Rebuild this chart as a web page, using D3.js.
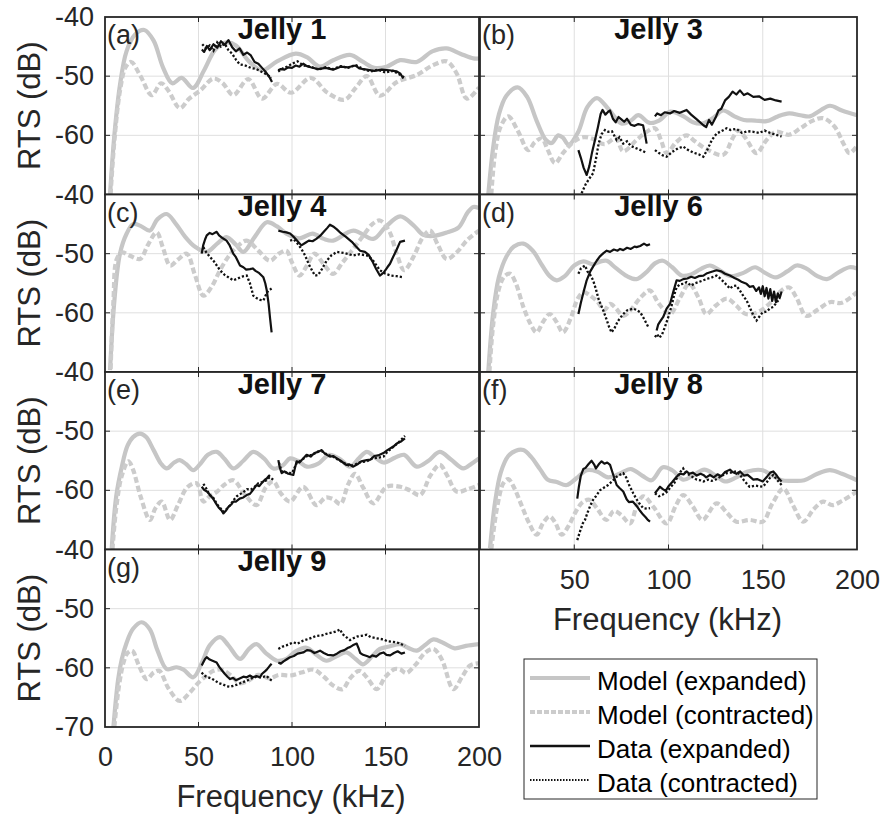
<!DOCTYPE html>
<html>
<head>
<meta charset="utf-8">
<script src="https://cdn.jsdelivr.net/npm/d3@7"></script>
<style>
    body { margin: 0; background: #fff; }
    svg text { font-family: "Liberation Sans", Arial, Helvetica, sans-serif; }
</style>
</head>
<body>
<div id="chart"></div>
<script>
// ---- tick labels / names ----
var freqTicks = [0, 50, 100, 150, 200];
var rtsTicks = [-40, -50, -60, -70];
var gridFreq = [50, 100, 150];
var gridRts = [-50, -60];
var titles = ["Jelly 1", "Jelly 3", "Jelly 4", "Jelly 6", "Jelly 7", "Jelly 8", "Jelly 9"];
var tags = ["(a)", "(b)", "(c)", "(d)", "(e)", "(f)", "(g)"];
var legendLabels = ["Model (expanded)", "Model (contracted)", "Data (expanded)", "Data (contracted)"];

// ---- Jelly 1 ----
var j1ModelExp = [[2.7,-70],[5,-60],[8,-51.5],[11.5,-45.8],[16,-43],[21,-42.2],[26,-44],[31,-48.5],[36,-51.2],[41,-50.3],[47,-52],[53,-49],[59,-45.5],[65,-44.3],[70,-44.8],[77,-47.5],[84,-49],[92,-47.5],[102,-46.2],[108,-46.8],[115,-48.4],[122,-47.3],[131,-46.4],[138,-47.6],[144,-48.6],[150.6,-48.4],[157.8,-47.3],[166.7,-47.6],[175,-45.8],[182.7,-45.3],[190,-46.2],[197,-47],[200,-47]];
var j1ModelCon = [[3,-70],[5,-61],[8,-52.5],[11,-48.5],[14,-47.6],[19,-50],[25,-53.2],[30,-51.2],[34,-52.5],[40,-55.4],[45,-53.8],[51,-52.4],[58,-50.4],[63,-51.2],[68.6,-53.2],[76.6,-50.5],[84,-53.8],[92,-51.3],[99.5,-52.8],[110,-50.3],[119,-52.8],[128,-54],[134,-52],[140,-50],[147,-53.3],[156,-51],[166.7,-49.8],[175,-48.2],[182.7,-47.5],[188,-49.5],[193.5,-53.8],[200,-51.9]];
var j1DataExp = [
    [[51.8,-45.5],[53,-45.9],[54.5,-44.9],[56,-45.6],[58,-44.6],[60,-45.2],[62,-44.1],[64,-44.7],[66,-43.9],[68,-45.1],[70,-45.8],[72,-45.3],[74,-46.4],[76,-46],[78,-46.5],[80,-47.6],[82,-47.9],[84,-48.6],[86,-49.3],[88,-50.2],[89.3,-51]],
    [[92.6,-49],[94,-48.8],[96,-48.9],[98,-48.5],[100,-48.6],[102,-48.2],[104,-48.4],[106,-47.9],[108,-48.3],[110,-48.5],[114,-48.8],[118,-48.6],[122,-48.9],[126,-48.4],[130,-48.5],[134,-48.2],[136,-48.7],[140,-48.9],[144,-49.1],[148,-48.9],[152,-49],[156,-49.2],[158,-49.6],[159.5,-50.4]]
];
var j1DataCon = [
    [[52,-44.6],[54,-45.3],[56,-44.8],[58,-45.7],[60,-44.3],[62,-45],[64,-44.5],[66,-45.6],[68,-46.2],[70,-47.2],[72,-48],[75,-48.2],[78,-48.6],[81,-48.8],[84,-49.3],[87,-49.8],[89,-50.3]],
    [[92.6,-49.2],[95,-48.7],[98,-48.3],[100,-47.9],[103,-47.5],[106,-48.2],[110,-48.4],[114,-48.9],[118,-48.5],[122,-48.8],[126,-48.3],[130,-48.6],[134,-48.1],[138,-48.8],[142,-49.2],[146,-48.9],[150,-49.4],[154,-49.1],[158,-49.8],[160,-50.2]]
];

// ---- Jelly 3 ----
var j3ModelExp = [[4.4,-70],[7,-62],[10,-56.5],[14,-53.3],[20,-51.9],[25,-53.5],[30,-57.5],[35,-60.8],[38,-61.3],[41.5,-60],[44,-60.4],[47,-61.6],[52,-59.5],[57,-55.2],[62,-53.7],[68,-55.5],[75,-58],[80,-57.5],[84,-56.6],[90,-57.9],[95,-57.5],[101,-56],[108,-56.8],[113,-57.8],[118,-58],[124,-57],[129,-55.8],[135,-56.8],[140,-57.4],[146,-57.5],[152,-57.6],[158,-56.8],[164,-56.3],[170,-56.6],[175,-56.8],[180,-55.9],[185.6,-55],[192,-55.8],[200,-56.6]];
var j3ModelCon = [[6,-70],[8,-63],[11,-58.5],[15,-56.8],[20,-59.2],[25.6,-62.5],[29,-61.2],[32.7,-60.5],[36,-62.5],[39.8,-64.7],[44,-63],[50,-61],[55,-60.3],[60,-60.6],[66,-61.5],[72,-60.5],[76,-62.7],[83,-60.8],[88,-59.5],[92.8,-58.8],[96,-60.8],[99,-63],[104,-61.2],[109.6,-60],[114,-61],[120,-62.3],[129,-63.3],[134,-60.5],[137,-59.2],[141,-60.5],[146.7,-63],[152,-60.8],[157,-59.4],[164,-59.9],[170,-58.8],[176,-57.6],[182,-57.1],[188,-58.5],[193,-61.5],[196,-63],[200,-61.8]];
var j3DataExp = [
    [[52.2,-62.5],[53.5,-63.8],[55,-65.5],[56.6,-66.7],[58,-65.2],[59.5,-62.8],[61,-60.8],[62.5,-58.7],[64,-56.4],[65,-55.7],[66.5,-56.5],[68,-56],[69,-55.8],[70.5,-57.2],[72,-57.8],[73.5,-56.9],[75,-57.3],[76.5,-57.7],[78,-57.2],[80,-58.2],[82,-58.4],[84,-58.1],[86.5,-58.3],[87.5,-59.8],[88.4,-61.4]],
    [[92.8,-56.8],[94,-56.3],[96,-56.6],[98,-56.1],[100.8,-56.3],[103,-55.9],[106,-56.2],[109.6,-55.7],[112,-56.5],[115,-57.3],[118.5,-58.3],[120,-58.6],[121.5,-57.4],[123,-58.2],[125,-57],[126.5,-55.8],[128,-55.5],[130,-54.1],[132,-53.5],[134,-52.6],[136,-53.1],[137.9,-52.4],[140,-53.2],[142,-52.9],[145,-53.5],[148,-53.4],[151,-54],[154,-53.8],[157,-54.1],[160,-54.3]]
];
var j3DataCon = [
    [[53.9,-69.8],[56,-68.3],[58,-67.3],[60,-66.4],[61.5,-64],[63,-61.3],[64.5,-59.8],[66.3,-59.1],[68,-59.4],[70,-59.3],[72.5,-60.8],[74,-60.3],[76,-61.4],[78,-61],[80,-61.8],[83,-62.2],[86,-62.6],[88.4,-63]],
    [[92.8,-62.5],[95,-63],[97,-63.4],[99,-63.6],[102,-62.8],[105,-62.2],[107.8,-61.9],[110,-62.4],[113,-62.9],[116,-63.2],[118.5,-63.6],[120.5,-62.5],[123,-60.8],[125.5,-59.7],[128,-59.3],[130.8,-58.8],[133,-59.1],[136,-58.9],[139,-59.6],[142,-59.3],[145,-59.4],[148,-59.6],[151,-59.2],[154,-59.6],[157,-59.9],[160,-60.2]]
];

// ---- Jelly 4 ----
var j4ModelExp = [[2.7,-69.7],[5,-58],[8,-50],[11.6,-46.6],[15,-45],[19,-45.3],[24,-46.1],[28,-44.2],[33,-43.3],[38,-45],[43,-47.2],[48,-48.8],[54.4,-49.7],[60,-48.3],[65,-47.2],[70,-48.5],[74,-49.7],[80,-47.2],[86.5,-44.7],[92,-45.4],[97,-46.6],[104,-47.4],[111,-46.6],[117,-47.5],[122,-47.8],[132.8,-46.1],[143.5,-47.5],[150,-45.5],[157.8,-43.7],[165,-45.2],[170,-46.8],[175.6,-47],[183,-46.4],[189,-45.6],[194,-43],[197,-42.1],[200,-42.3]];
var j4ModelCon = [[3,-69.5],[4.5,-58],[6.2,-51],[9,-49.8],[13,-50.3],[18.7,-50.9],[23,-48.5],[27.6,-46.4],[31,-49],[34.8,-52],[39,-51],[43.7,-50],[48,-53.5],[52.6,-57.1],[57,-55.6],[61.5,-52.8],[66,-50.5],[71,-48.7],[75.8,-47.8],[82,-49.5],[88.2,-51.2],[93,-50],[97,-49.5],[100,-51.5],[104,-53.7],[108,-52],[112,-50],[117,-51.8],[122,-53.4],[127,-51.5],[132,-49.5],[138,-47],[143,-45],[147,-44.4],[152,-46.2],[156,-50],[160,-52.8],[165,-50.5],[170,-47.2],[173.8,-46.1],[178,-48.5],[182.7,-50.9],[188,-49.8],[194,-47.6],[200,-46.1]];
var j4DataExp = [
    [[51.7,-50],[52.5,-48.6],[53.5,-47.6],[54.4,-46.9],[56,-46.5],[57.5,-46.7],[59.7,-46.3],[61,-46.9],[63,-47.4],[65,-47.8],[66.5,-48.5],[68.6,-50],[70,-50.6],[72.2,-52],[74,-52.3],[75.5,-52.7],[77.5,-52.6],[79,-52.5],[80.5,-52.9],[82.5,-53.3],[84.7,-54],[85.7,-55],[86.5,-56.2],[87.5,-58.5],[88.3,-61],[89.1,-63.3]],
    [[92.7,-46.1],[95,-46.3],[97,-46.4],[99,-46.6],[101,-47.2],[103,-47.9],[105,-48.6],[107,-48.2],[109,-47.8],[111,-47.9],[113,-47.5],[115,-47],[117,-46.3],[119,-45.6],[120.3,-45.1],[122,-45.4],[124,-45.9],[126,-46.5],[129,-47.2],[132,-48],[134,-48.7],[136.4,-49.5],[139,-49.7],[141,-50.2],[143,-51.3],[145,-52.6],[147,-53.7],[149,-53.2],[151,-52.3],[152.4,-51.7],[154,-50.6],[156,-49.3],[157.8,-48],[160.4,-47.8]]
];
var j4DataCon = [
    [[52.6,-48.9],[54,-49.7],[56,-50.5],[58,-51.2],[60,-52.1],[61.5,-52.8],[64,-53.6],[66,-54],[68.6,-54.5],[71,-54.2],[73,-53.9],[75.8,-53.7],[77.5,-55],[79.3,-57.1],[81,-57.5],[83,-57.8],[84.7,-57.9],[86,-57],[87.3,-56.2],[88.5,-56],[90,-55.7]],
    [[99,-47.8],[101,-47.6],[103,-48.3],[105,-49.2],[107,-50.3],[109,-51.8],[111,-53],[112.3,-53.7],[114,-53.6],[116,-52.6],[118.5,-51.2],[121,-50.3],[124,-49.7],[128,-49.9],[132.8,-50.3],[136,-50.1],[140,-50.3],[143,-51],[147,-52.8],[150,-53.4],[153,-53.7],[156,-53.8],[159.5,-54]]
];

// ---- Jelly 6 ----
var j6ModelExp = [[4.4,-70],[7,-60],[10,-54],[14,-50.5],[18,-48.8],[23,-48.3],[28,-49.5],[33,-52],[37,-53.8],[40.7,-54.5],[45,-53.8],[50,-52],[55,-51.3],[60,-51.8],[64,-51.3],[67.2,-51.2],[72,-52.4],[78,-53.8],[83,-54.3],[88,-53.2],[93,-51.6],[97,-51.2],[102,-52.3],[107,-53.7],[112,-53.5],[117,-52.6],[122,-52],[127,-52.8],[133,-53.8],[140,-53.2],[146,-52.3],[151,-53.2],[157,-54],[163,-53],[168,-52],[173,-52.5],[179,-53.8],[184,-54.3],[190,-53.2],[196,-52.3],[200,-52.5]];
var j6ModelCon = [[5,-70],[7,-62],[10,-56],[13,-53.8],[16,-53.4],[19,-55],[23,-59],[27,-62],[30,-63.3],[33.5,-61.5],[37,-60.2],[40.5,-61.5],[44,-63.3],[48,-61],[52,-57.5],[55,-56.5],[58,-57],[62,-58],[66,-59.5],[69,-58.5],[72,-59.2],[76,-60.5],[80,-59.5],[85,-57.5],[90,-56.2],[95,-58.5],[100.8,-60.2],[106,-57.5],[111,-55.1],[116,-57.5],[120,-60.2],[125,-58.8],[131,-57.6],[136,-58.8],[141,-60.2],[148,-59.8],[155,-58],[160,-56.2],[164,-55.7],[168,-57.5],[173,-60.5],[179,-59.5],[185.6,-58.2],[192,-58.3],[200,-56.5]];
var j6DataExp = [
    [[52.2,-60.2],[53.5,-58.3],[55,-56.4],[56.6,-54.5],[58.5,-53],[60,-52.2],[61.9,-51.2],[63.5,-50.5],[65.5,-49.9],[67.2,-49.5],[69,-49.7],[71,-49.3],[73,-49.5],[74.3,-49.2],[76,-49.4],[78,-49],[80,-49.2],[82,-48.8],[83,-48.9],[85,-48.7],[87,-48.3],[88.5,-48.6],[90.2,-48.4]],
    [[93.7,-63],[94.5,-62],[95.5,-61.5],[97.2,-60.7],[99,-59.3],[100.8,-58.5],[102.5,-56.5],[104.3,-54.5],[106,-54.6],[107.8,-54.3],[110,-54.2],[112,-53.9],[114,-54.1],[116,-53.8],[118.5,-53.7],[120.5,-53.3],[122.5,-53.1],[125.5,-52.8],[128,-53],[130,-53.4],[132.6,-53.7],[135,-54.1],[137,-54.4],[139,-54.8],[141.4,-55.1],[143,-55.6],[145,-55.5],[146.5,-56.3],[148,-55.7],[149,-56.8],[150,-55.5],[151,-57.2],[152,-55.8],[153,-57.6],[154,-56],[155,-58],[156,-56.4],[157,-58.2],[158,-56.7],[159,-57.5],[160,-56.4]]
];
var j6DataCon = [
    [[52.2,-53.4],[53.5,-52.5],[55.7,-52],[57,-53],[58.5,-53.6],[60,-54.5],[61.5,-56],[63,-57.8],[65.4,-59.6],[67,-61],[68.5,-62.4],[69.8,-63.3],[71.5,-62.5],[73,-61.5],[74.5,-60.8],[76,-60.2],[78,-59.6],[80,-59.4],[81.3,-59.3],[83,-59.5],[85,-59.9],[87,-61],[89.3,-62.4]],
    [[92.8,-64.1],[94,-63.6],[95,-64.2],[96.4,-63.8],[98,-62.5],[100,-60.6],[101.5,-59],[103,-57],[104.3,-55.7],[106,-55.2],[108,-55.1],[109.6,-54.8],[112,-55.4],[114,-55],[116,-54.8],[118.5,-54.5],[121,-54.2],[123,-54],[125.5,-53.7],[127.5,-54.2],[130,-55],[132.6,-55.9],[134,-55.5],[136,-55.4],[138,-56.3],[140,-57.3],[141.4,-57.9],[143,-59],[145,-60.4],[146.7,-61.3],[148.5,-60.5],[150,-59.9],[152,-59.8],[154,-59.2],[155.6,-59],[157,-58.4],[159,-57.6]]
];

// ---- Jelly 7 ----
var j7ModelExp = [[3.6,-69.8],[6,-61],[9,-56],[12,-52.5],[15,-51],[18.7,-50.4],[22,-51],[26,-53.2],[30,-55.5],[33,-56.3],[37,-55.3],[40,-54.9],[43.5,-55.6],[47.2,-56.6],[51,-55.5],[55,-54],[59.7,-53.5],[64,-54.7],[68.6,-56.3],[74,-55],[79.3,-53.5],[85,-54.6],[90,-56.3],[95,-55.8],[99,-54.6],[103,-55],[108,-56],[114,-55.5],[120,-54],[126,-54.8],[131,-56],[136,-54.5],[140,-53.5],[144,-54.3],[149,-55.3],[155,-54.5],[160,-54],[166.7,-56],[173,-55],[179,-53.5],[185,-54.8],[191.6,-56.3],[196,-55.5],[200,-54.6]];
var j7ModelCon = [[4,-70],[6,-63],[9,-57.5],[12.5,-55.1],[15,-56.5],[19,-61],[24,-65],[27,-63],[30.3,-61.9],[34.8,-65],[39,-62.5],[44,-59.5],[49,-58.8],[52.6,-61.9],[56,-61],[60,-60.2],[64,-59],[68.6,-58.3],[75,-60.8],[81,-62.5],[86,-59.5],[90,-58.5],[94,-60.5],[99,-61.9],[106,-59.4],[113,-62.5],[118,-61.2],[122,-61.5],[126,-62.3],[130,-59],[133.7,-57.2],[138,-59.5],[143.5,-62.2],[150.6,-59.4],[158,-59.4],[163,-60],[168.5,-60.8],[174,-57.5],[179,-55.7],[183,-57.5],[188,-60.2],[194,-59.8],[200,-59.1]];
var j7DataExp = [
    [[51.7,-59.4],[53,-59.9],[54.5,-60.2],[56.2,-60.8],[58,-61.5],[59.5,-62.3],[61,-63],[62.3,-63.4],[63.3,-63.9],[64.5,-63.5],[66,-62.8],[67.5,-62.4],[68.6,-61.9],[70,-61.9],[72,-61.4],[74,-61.2],[75.8,-60.8],[77.5,-60.6],[79,-60],[81,-59.1],[82.5,-59.3],[84,-58.7],[85.5,-58.2],[86.5,-58],[87.5,-57.6],[88.2,-57.4]],
    [[92.7,-54.9],[93.5,-56.2],[94.5,-57.1],[96,-56.8],[98,-57.2],[100.7,-57.4],[101.5,-56.3],[102.5,-55.1],[104,-55.3],[106,-54.6],[107.8,-54],[110,-54.3],[112,-53.7],[114,-53.5],[115.9,-53.2],[117.5,-53.8],[120.3,-54.3],[122,-54.2],[124,-54.6],[126,-55],[129,-55.7],[130.5,-55.6],[132.8,-56],[135,-55.6],[137,-55.1],[140,-54.9],[142,-54.8],[144,-54.2],[146,-54.1],[148.9,-53.7],[151,-53.2],[154.2,-52.6],[156,-52.1],[158,-51.8],[160.4,-51.2]]
];
var j7DataCon = [
    [[52.6,-58.9],[54,-59.6],[56,-60.8],[58,-61.3],[60,-62.4],[62,-63.1],[63.3,-63.6],[65,-63.2],[67,-62.5],[68.6,-61.7],[70.5,-61],[72.5,-60.6],[74,-60.3],[76,-59.8],[78,-59.9],[80,-59.4],[82,-58.8],[84,-58.6],[86.5,-58.3],[88,-57.8],[90,-58.2]],
    [[93,-55.3],[94.5,-56.8],[97,-57],[100,-57.1],[102.5,-55.4],[105,-54.9],[108,-54.2],[111,-54],[114,-53.4],[116,-53.4],[119,-54],[122,-54.3],[125,-54.9],[128,-55.4],[131,-55.9],[134,-55.6],[137,-55.2],[140,-55.1],[143,-54.6],[146,-54.5],[148.9,-54.3],[151,-53.5],[154,-52.7],[157,-51.9],[160.4,-50.8]]
];

// ---- Jelly 8 ----
var j8ModelExp = [[5.3,-69.8],[8,-62],[11,-57],[15,-54.2],[19,-53.3],[23,-53.2],[27,-54.3],[32,-56.5],[36,-58.2],[40.7,-58.6],[46,-59.1],[51,-58],[56.6,-56.6],[62,-56.8],[68,-57.8],[74,-57.2],[80,-56.4],[86,-57.5],[91,-58.3],[97,-56.1],[102,-56.6],[107.8,-58.2],[113,-57.5],[119,-56.5],[125,-57.5],[130,-58.5],[136,-57.8],[142,-56.8],[150,-56.6],[155,-57.5],[160,-58.3],[166,-58.4],[172,-58.3],[179,-57.2],[185.6,-56.6],[192,-57.2],[200,-58.3]];
var j8ModelCon = [[6,-70],[9,-63],[12.4,-58.8],[15,-58.1],[18,-59.5],[22,-62.5],[26,-65.5],[30,-67.5],[33.5,-65.5],[37,-64.4],[40,-65.5],[43.3,-67.5],[47,-66],[51,-63.5],[54.5,-62],[58,-61.6],[62,-63],[67,-65],[71,-63.5],[75,-64.2],[79.6,-65.6],[83,-62.8],[86.6,-61],[92,-62.8],[99,-65.6],[104,-62.5],[107.8,-60.8],[113,-62.8],[118,-65],[125.5,-62.2],[131,-63.8],[136,-65.3],[143,-65],[150,-65.3],[155,-62.3],[161,-59.7],[166,-62.5],[171.5,-65.3],[177,-63.2],[182,-61.9],[187,-62.5],[192,-61.8],[200,-60.2]];
var j8DataExp = [
    [[51.6,-61.4],[52.5,-59.3],[53.5,-57.5],[54.8,-56.4],[56,-56.2],[57.5,-55.6],[59.2,-55],[60.5,-55.6],[61.5,-56.3],[63,-55.6],[64.5,-55.1],[66,-55.5],[67.5,-55.3],[69,-55.7],[70.5,-57.2],[72.5,-59.1],[74,-59.6],[76,-60.2],[77.8,-61.5],[79,-62],[81,-61.9],[83,-62.6],[85,-63.5],[86.5,-64.1],[88,-64.6],[89,-65],[90.2,-65.3]],
    [[92.8,-60.5],[94,-60],[95.5,-59.4],[97,-59.8],[98.5,-60.1],[100,-59.3],[102,-58.6],[104.3,-57.7],[106,-57.2],[108,-57.3],[109.6,-56.8],[111,-57.2],[113,-57],[115,-57.5],[117,-57.2],[118.5,-57.4],[120,-57.8],[122,-57.4],[124,-57.8],[126,-57.3],[128,-57.6],[130,-56.9],[132.6,-56.5],[134,-56.9],[136,-57.2],[138,-56.8],[140,-57.5],[142,-57.4],[145,-58.2],[147,-58.1],[150,-58.5],[152,-57.8],[154,-57],[155.6,-56.8],[157,-57.3],[158.5,-58],[160,-58.5]]
];
var j8DataCon = [
    [[51.6,-68.4],[53,-67],[54.5,-65.6],[55.7,-65],[57,-63.8],[58.5,-62.6],[60,-61.6],[61.5,-61],[63.6,-60],[65.5,-59.6],[68,-59.1],[70,-58.5],[72.5,-57.7],[74,-57.4],[76,-57.1],[77.5,-57.8],[79,-59],[81.3,-60.5],[83,-61.5],[85,-62.4],[86.6,-63],[88.5,-63.1],[90.2,-63]],
    [[92.8,-60.5],[95,-61],[97,-60.7],[99,-60.3],[101,-59.5],[103,-58.8],[105,-57.6],[106.5,-56.8],[107.8,-56.3],[109,-57],[111,-57.4],[113,-57.8],[115,-58.2],[117,-58.3],[118.5,-58.5],[121,-58.2],[123,-58.4],[125.5,-58.1],[128,-57.6],[130.8,-57.1],[133,-57],[136,-56.8],[138,-57.4],[140,-58.3],[143,-59.4],[146,-59.2],[150,-59.4],[152,-58.7],[154,-57.8],[155.6,-57.4],[157.5,-58.2],[160,-59.1]]
];

// ---- Jelly 9 ----
var j9ModelExp = [[4.5,-70],[7,-62],[9,-58.5],[11.6,-55.7],[15,-53.4],[19.6,-52.3],[24,-53.5],[28,-57],[33,-60.2],[38.3,-59.9],[42,-60.3],[47.2,-61.6],[52,-59],[56,-56.2],[61.5,-54.8],[66,-56.2],[72.2,-58.5],[77,-56.8],[81,-56],[86,-57.5],[92,-58.8],[97,-58.5],[102,-57.2],[107.8,-56.6],[113,-57.8],[118.5,-58.8],[124,-58],[129,-57.4],[134,-58.5],[138,-59.4],[143,-58],[147,-56.8],[152,-56.4],[157.8,-56],[162,-56.6],[166.7,-57.1],[171,-56.2],[175.6,-55.2],[181,-55.8],[187,-56.7],[193,-56.3],[200,-56]];
var j9ModelCon = [[5,-70],[7.5,-63],[10,-59],[12,-57.5],[14.5,-57.1],[18,-59.5],[22.3,-61.9],[26,-60.8],[29,-60.5],[34,-63.5],[40,-65.6],[45,-64.3],[50,-62.5],[54.4,-61.3],[58,-60.5],[62,-60.3],[67,-61.2],[72,-62.6],[76,-62.3],[82,-61.2],[88,-61.8],[93,-61.2],[99,-61.3],[105,-60.8],[111.4,-60.3],[117,-61.5],[122,-63],[127,-63.6],[131,-61.8],[136,-60.5],[140,-61.6],[145.3,-63.6],[150,-61.5],[155,-60.2],[158,-60.3],[161,-60.9],[166,-59.5],[171,-57.5],[175.6,-56.8],[180,-58.5],[186.3,-63.6],[191,-61.5],[195.2,-59.6],[200,-59.2]];
var j9DataExp = [
    [[51.7,-59.6],[52.5,-59.1],[53.5,-58.5],[54.4,-58.2],[56,-58.6],[57.5,-58.8],[59.7,-59.1],[61,-59.8],[62.5,-60.4],[64,-61],[65.5,-61.5],[66.9,-61.9],[68.5,-61.7],[70,-62.1],[72,-61.8],[74,-61.5],[75.8,-61.6],[77.5,-61.3],[79,-61.6],[81,-61.4],[82.9,-61.6],[84,-61],[85.5,-60.6],[86.5,-60.3],[88,-59.7],[89.1,-59.3]],
    [[92.7,-59.1],[94,-59.3],[95.5,-58.9],[97,-58.6],[99,-58.2],[101,-58],[103,-57.6],[106,-57.4],[108,-57],[110,-57.1],[112,-57.5],[115,-57.1],[117,-57.5],[119,-57.8],[122,-57.9],[124,-57.6],[126,-57.2],[128,-57],[130,-56.6],[131,-56.5],[132.5,-56.2],[134.6,-55.9],[135.5,-56.6],[136.5,-57.5],[138,-57.8],[140,-58],[141.7,-58.2],[143,-57.9],[145,-58.1],[147,-57.6],[148.9,-57.4],[150.5,-57.8],[152.5,-57.9],[154.5,-57.5],[156.5,-57.2],[158.5,-57.6],[160.4,-57.4]]
];
var j9DataCon = [
    [[51.7,-60.8],[53,-61.3],[55,-61.6],[57,-61.8],[59,-62.2],[61,-62.6],[63,-62.8],[65,-63.1],[66.9,-63.2],[69,-63],[71,-62.8],[73,-62.5],[75,-62.3],[77,-62],[79,-61.7],[81,-61.5],[83,-61.6],[85,-61.5],[86.5,-61.4],[88,-61.9],[90,-62.3]],
    [[92.7,-56.8],[95,-56.4],[97,-56.2],[100.7,-55.7],[103,-55.9],[106,-55.4],[109,-55.1],[113,-54.6],[116,-54.5],[119,-54.2],[122,-54],[124,-53.8],[125.7,-53.5],[127,-54.3],[129,-54.8],[131,-55.3],[132.8,-55],[135,-54.7],[137,-54.6],[140,-54.4],[142,-54.8],[145,-55],[148.9,-55.2],[151,-55.5],[154,-55.6],[157,-55.8],[160.4,-56.3]]
];

var width = 883,
    height = 817;

var colX = [[105, 479], [480, 857]],
    rowTop = [17, 194.5, 372, 549.5],
    rowH = 177.5;

var axisColor = "#262626",
    gridColor = "#dfdfdf",
    modelColor = "#c6c6c6",
    modelDashColor = "#cccccc";

var panels = [
    {col: 0, row: 0, me: j1ModelExp, mc: j1ModelCon, de: j1DataExp, dc: j1DataCon},
    {col: 1, row: 0, me: j3ModelExp, mc: j3ModelCon, de: j3DataExp, dc: j3DataCon},
    {col: 0, row: 1, me: j4ModelExp, mc: j4ModelCon, de: j4DataExp, dc: j4DataCon},
    {col: 1, row: 1, me: j6ModelExp, mc: j6ModelCon, de: j6DataExp, dc: j6DataCon},
    {col: 0, row: 2, me: j7ModelExp, mc: j7ModelCon, de: j7DataExp, dc: j7DataCon},
    {col: 1, row: 2, me: j8ModelExp, mc: j8ModelCon, de: j8DataExp, dc: j8DataCon},
    {col: 0, row: 3, me: j9ModelExp, mc: j9ModelCon, de: j9DataExp, dc: j9DataCon}
];

// plain hyphen like the original, not d3's unicode minus
var plainNum = function (d) { return String(d) };

var svg = d3.select("#chart")
    .append("svg")
    .attr("width", width)
    .attr("height", height);

panels.forEach(function (p, i) {
    var x = d3.scaleLinear().domain([0, 200]).range(colX[p.col]);
    var top = rowTop[p.row];
    var y = d3.scaleLinear().domain([-70, -40]).range([top + rowH, top]);
    var g = svg.append("g").attr("class", "panel");

    svg.append("clipPath").attr("id", "clip" + i)
        .append("rect")
        .attr("x", x(0)).attr("y", y(-40))
        .attr("width", x(200) - x(0)).attr("height", y(-70) - y(-40));

    g.append("rect")
        .attr("x", x(0)).attr("y", y(-40))
        .attr("width", x(200) - x(0)).attr("height", y(-70) - y(-40))
        .attr("fill", "#fff");

    // grid
    g.selectAll(".gx").data(gridFreq).enter().append("line")
        .attr("x1", function (d) { return x(d) }).attr("x2", function (d) { return x(d) })
        .attr("y1", y(-40)).attr("y2", y(-70))
        .attr("stroke", gridColor).attr("stroke-width", 1);
    g.selectAll(".gy").data(gridRts).enter().append("line")
        .attr("y1", function (d) { return y(d) }).attr("y2", function (d) { return y(d) })
        .attr("x1", x(0)).attr("x2", x(200))
        .attr("stroke", gridColor).attr("stroke-width", 1);

    var smooth = d3.line().curve(d3.curveCatmullRom)
        .x(function (d) { return x(d[0]) })
        .y(function (d) { return y(d[1]) });
    var line = d3.line()
        .x(function (d) { return x(d[0]) })
        .y(function (d) { return y(d[1]) });

    var lines = g.append("g").attr("clip-path", "url(#clip" + i + ")");

    lines.append("path").attr("d", smooth(p.me))
        .attr("fill", "none").attr("stroke", modelColor).attr("stroke-width", 4.2);
    lines.append("path").attr("d", smooth(p.mc))
        .attr("fill", "none").attr("stroke", modelDashColor).attr("stroke-width", 4.2)
        .attr("stroke-dasharray", "6,3");

    p.de.forEach(function (seg) {
        lines.append("path").attr("d", line(seg))
            .attr("fill", "none").attr("stroke", "#111").attr("stroke-width", 2.2)
            .attr("stroke-linejoin", "round");
    });
    p.dc.forEach(function (seg) {
        lines.append("path").attr("d", line(seg))
            .attr("fill", "none").attr("stroke", "#111").attr("stroke-width", 2.3)
            .attr("stroke-dasharray", "2.2,2");
    });

    // tick marks on all four sides, pointing in
    var tk = 5;
    gridFreq.forEach(function (f) {
        g.append("line").attr("x1", x(f)).attr("x2", x(f)).attr("y1", y(-70)).attr("y2", y(-70) - tk)
            .attr("stroke", axisColor).attr("stroke-width", 1);
        g.append("line").attr("x1", x(f)).attr("x2", x(f)).attr("y1", y(-40)).attr("y2", y(-40) + tk)
            .attr("stroke", axisColor).attr("stroke-width", 1);
    });
    gridRts.forEach(function (v) {
        g.append("line").attr("x1", x(0)).attr("x2", x(0) + tk).attr("y1", y(v)).attr("y2", y(v))
            .attr("stroke", axisColor).attr("stroke-width", 1);
        g.append("line").attr("x1", x(200)).attr("x2", x(200) - tk).attr("y1", y(v)).attr("y2", y(v))
            .attr("stroke", axisColor).attr("stroke-width", 1);
    });

    // box
    g.append("rect")
        .attr("x", x(0)).attr("y", y(-40))
        .attr("width", x(200) - x(0)).attr("height", y(-70) - y(-40))
        .attr("fill", "none").attr("stroke", axisColor).attr("stroke-width", 1.8);

    // y tick labels, left column only
    if (p.col === 0) {
        var yl = rtsTicks.filter(function (v) { return v !== -70 || p.row === 3 });
        var ya = g.append("g").attr("transform", "translate(" + x(0) + ",0)")
            .call(d3.axisLeft(y).tickValues(yl).tickFormat(plainNum).tickSize(0).tickPadding(11));
        ya.select(".domain").remove();
        ya.selectAll("text").attr("font-size", 27).attr("fill", axisColor)
            .attr("font-family", "Liberation Sans, Arial, sans-serif");

        g.append("text")
            .attr("transform", "translate(40," + (top + rowH / 2) + ") rotate(-90)")
            .attr("text-anchor", "middle")
            .attr("font-size", 31).attr("fill", axisColor)
            .text("RTS (dB)");
    }

    // x tick labels on the bottom panel of each column
    if ((p.col === 0 && p.row === 3) || (p.col === 1 && p.row === 2)) {
        var xl = p.col === 0 ? freqTicks : freqTicks.slice(1);
        var xa = g.append("g").attr("transform", "translate(0," + y(-70) + ")")
            .call(d3.axisBottom(x).tickValues(xl).tickFormat(plainNum).tickSize(0).tickPadding(20));
        xa.select(".domain").remove();
        xa.selectAll("text").attr("font-size", 27).attr("fill", axisColor)
            .attr("font-family", "Liberation Sans, Arial, sans-serif");

        g.append("text")
            .attr("x", (x(0) + x(200)) / 2 - 1)
            .attr("y", y(-70) + 80)
            .attr("text-anchor", "middle")
            .attr("font-size", 31).attr("fill", axisColor)
            .text("Frequency (kHz)");
    }

    g.append("text")
        .attr("x", (x(0) + x(200)) / 2 - 10)
        .attr("y", top + 21.5)
        .attr("text-anchor", "middle")
        .attr("font-size", 29).attr("font-weight", "bold").attr("fill", "#111")
        .text(titles[i]);

    g.append("text")
        .attr("x", x(0) + 2)
        .attr("y", top + 27)
        .attr("font-size", 27).attr("fill", axisColor)
        .text(tags[i]);
});

// legend
var legend = svg.append("g").attr("transform", "translate(524,659)");
legend.append("rect")
    .attr("width", 293).attr("height", 140)
    .attr("fill", "#fff").attr("stroke", axisColor).attr("stroke-width", 1);

var legendStyle = [
    {color: modelColor, w: 4, dash: null},
    {color: modelDashColor, w: 4, dash: "5,2"},
    {color: "#111", w: 2.5, dash: null},
    {color: "#111", w: 2, dash: "1.5,1.5"}
];

legendLabels.forEach(function (label, i) {
    var ly = 19 + i * 34;
    legend.append("line")
        .attr("x1", 6).attr("x2", 66).attr("y1", ly).attr("y2", ly)
        .attr("stroke", legendStyle[i].color).attr("stroke-width", legendStyle[i].w)
        .attr("stroke-dasharray", legendStyle[i].dash);
    legend.append("text")
        .attr("x", 73).attr("y", ly + 11.5)
        .attr("font-size", 26).attr("fill", "#000")
        .text(label);
});
</script>
</body>
</html>
